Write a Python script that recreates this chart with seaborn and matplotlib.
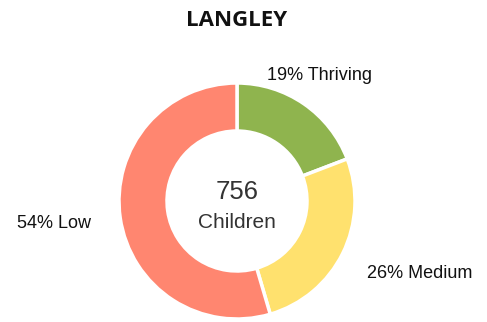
import matplotlib
matplotlib.use("Agg")
import matplotlib.pyplot as plt
import seaborn as sns

# Segment data
categories = ["Thriving", "Medium", "Low"]
percents = [19, 26, 54]
colors = ["#8fb44e", "#ffe16e", "#ff8670"]
total_children = 756
title = "LANGLEY"

sns.set_theme(style="white")
plt.rcParams["font.family"] = ["Liberation Sans", "DejaVu Sans"]

W, H = 487, 322
fig = plt.figure(figsize=(W / 100, H / 100), dpi=100)
ax = fig.add_axes([0, 0, 1, 1])

cx, cy = 237, H - 201
outer_r, ring_w = 118, 48

ax.pie(percents, colors=colors, startangle=90, counterclock=False,
       center=(cx, cy), radius=outer_r, frame=True,
       wedgeprops=dict(width=ring_w, edgecolor="white", linewidth=2.5))

ax.set_xlim(0, W)
ax.set_ylim(0, H)
ax.set_aspect("equal", adjustable="box")
ax.axis("off")

# Outside labels
label_pos = [(267, H - 75, "left"), (367, H - 273, "left"), (54, H - 223, "center")]
for cat, pct, (x, y, ha) in zip(categories, percents, label_pos):
    ax.text(x, y, f"{pct}% {cat}", ha=ha, va="center", fontsize=13, color="#111111")

# Centre text
ax.text(cx, H - 192, f"{total_children}", ha="center", va="center", fontsize=18.5, color="#333333")
ax.text(cx, H - 222, "Children", ha="center", va="center", fontsize=15, color="#333333")

ax.text(cx, H - 20, title, ha="center", va="center", fontsize=16,
        fontweight="bold", family=["Open Sans", "DejaVu Sans"], color="#111111")

fig.savefig("out.png", dpi=100)
